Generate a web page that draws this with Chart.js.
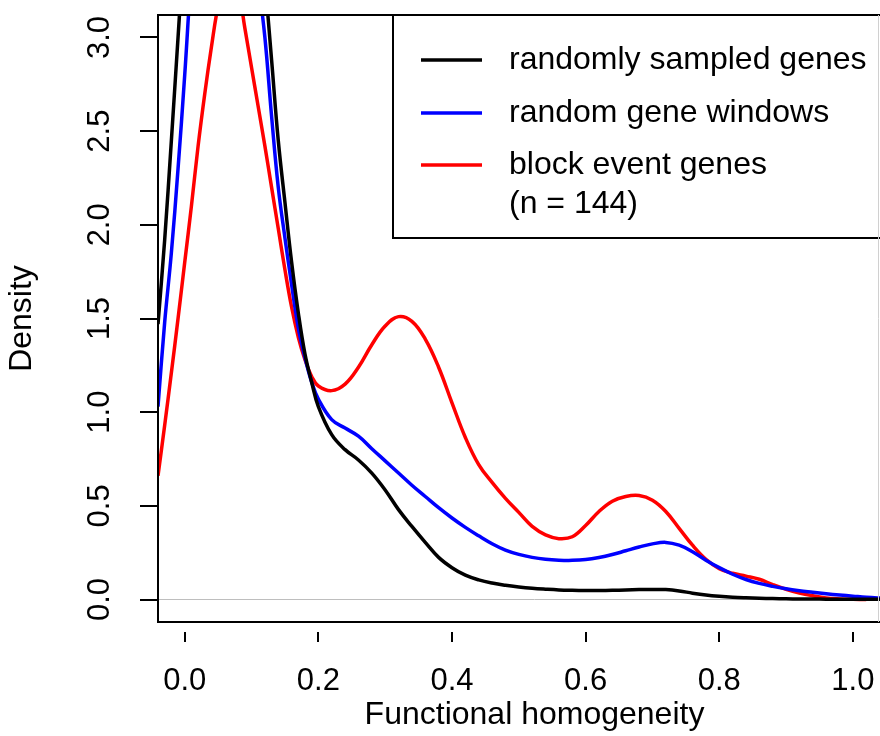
<!DOCTYPE html>
<html>
<head>
<meta charset="utf-8">
<title>Functional homogeneity density</title>
<script src="https://cdn.jsdelivr.net/npm/chart.js@4.4.1/dist/chart.umd.min.js"></script>
<style>
  html, body { margin: 0; padding: 0; background: #fff; overflow: hidden; }
  canvas { display: block; }
</style>
</head>
<body>
<!-- the original figure is cropped on its right side, so the canvas runs a bit past the window -->
<canvas id="myChart" width="911" height="736"></canvas>
<script>
const xGrid = [
  -0.04, -0.03, -0.02, -0.01, 0.00, 0.01, 0.02, 0.03, 0.04, 0.05,
  0.06, 0.07, 0.08, 0.09, 0.10, 0.11, 0.12, 0.13, 0.14, 0.15,
  0.16, 0.17, 0.18, 0.19, 0.20, 0.22, 0.24, 0.26, 0.28, 0.30,
  0.32, 0.34, 0.36, 0.38, 0.40, 0.42, 0.44, 0.46, 0.48, 0.50,
  0.52, 0.54, 0.56, 0.58, 0.60, 0.62, 0.64, 0.66, 0.68, 0.70,
  0.72, 0.74, 0.76, 0.78, 0.80, 0.82, 0.84, 0.86, 0.88, 0.90,
  0.92, 0.94, 0.96, 0.98, 1.00, 1.02, 1.04, 1.06, 1.08
];

const randomlySampled = [
  1.47, 1.92, 2.45, 3.0, 3.55, 4.0, 4.4, 4.7, 4.9, 5.0,
  5.0, 4.9, 4.65, 4.3, 3.95, 3.65, 3.3, 2.88, 2.45, 2.12,
  1.8, 1.53, 1.31, 1.16, 1.03, 0.88, 0.80, 0.745, 0.675, 0.585,
  0.48, 0.39, 0.305, 0.225, 0.17, 0.13, 0.105, 0.088, 0.076, 0.067,
  0.06, 0.055, 0.051, 0.049, 0.048, 0.048, 0.049, 0.051, 0.053, 0.054,
  0.053, 0.046, 0.034, 0.024, 0.017, 0.012, 0.009, 0.007, 0.005, 0.004,
  0.003, 0.003, 0.002, 0.002, 0.001, 0.001, 0.001, 0.001, 0.0
];

const randomWindows = [
  1.03, 1.48, 1.85, 2.3, 2.8, 3.35, 3.75, 4.05, 4.25, 4.35,
  4.35, 4.25, 4.05, 3.8, 3.55, 3.3, 3.0, 2.58, 2.2, 1.93,
  1.68, 1.45, 1.29, 1.16, 1.07, 0.96, 0.915, 0.872, 0.805, 0.74,
  0.675, 0.61, 0.55, 0.49, 0.435, 0.385, 0.34, 0.298, 0.264, 0.241,
  0.225, 0.215, 0.21, 0.209, 0.213, 0.224, 0.24, 0.26, 0.28, 0.297,
  0.305, 0.29, 0.255, 0.21, 0.17, 0.135, 0.107, 0.086, 0.07, 0.057,
  0.047, 0.039, 0.031, 0.024, 0.018, 0.012, 0.008, 0.005, 0.003
];

const blockEvent = [
  0.66, 0.93, 1.21, 1.5, 1.8, 2.1, 2.42, 2.7, 2.95, 3.17,
  3.3, 3.34, 3.26, 3.05, 2.84, 2.63, 2.42, 2.2, 1.98, 1.76,
  1.56, 1.4, 1.28, 1.19, 1.14, 1.115, 1.15, 1.24, 1.36, 1.46,
  1.51, 1.485, 1.39, 1.24, 1.05, 0.865, 0.72, 0.625, 0.54, 0.465,
  0.39, 0.345, 0.325, 0.335, 0.395, 0.47, 0.525, 0.55, 0.555, 0.53,
  0.47, 0.38, 0.29, 0.215, 0.165, 0.14, 0.125, 0.108, 0.08, 0.055,
  0.035, 0.02, 0.008, 0.003, 0.001, 0.0, null, null, null
];

const seriesLabels = ['randomly sampled genes', 'random gene windows', ['block event genes', '(n = 144)']];
const seriesColors = ['#000000', '#0000ff', '#ff0000'];
const xTickValues = [0, 0.2, 0.4, 0.6, 0.8, 1.0];
const yTickValues = [0, 0.5, 1.0, 1.5, 2.0, 2.5, 3.0];

const FONT = "'Liberation Sans', Arial, Helvetica, sans-serif";

function toPoints(values) {
  return xGrid.map((x, i) => ({ x: x, y: values[i] }));
}

// R style frame, zero line, detached x ticks and boxed legend
const rStyle = {
  id: 'rStyle',
  beforeDatasetsDraw(chart) {
    const { ctx, chartArea: a, scales: { y } } = chart;
    const y0 = Math.round(y.getPixelForValue(0)) - 0.5;
    ctx.save();
    ctx.strokeStyle = '#bebebe';
    ctx.lineWidth = 1;
    ctx.beginPath();
    ctx.moveTo(a.left, y0);
    ctx.lineTo(a.right, y0);
    ctx.stroke();
    ctx.restore();
  },
  afterDraw(chart) {
    const { ctx, chartArea: a, scales: { x } } = chart;
    ctx.save();

    // x ticks, drawn apart from the frame like R's axis()
    ctx.strokeStyle = '#000';
    ctx.lineWidth = 2;
    x.ticks.forEach(t => {
      const px = Math.round(x.getPixelForValue(t.value));
      ctx.beginPath();
      ctx.moveTo(px, a.bottom + 10);
      ctx.lineTo(px, a.bottom + 20);
      ctx.stroke();
    });

    // legend box
    const lx = 393, ly = a.top, lb = 238;
    ctx.fillStyle = '#fff';
    ctx.fillRect(lx, ly, a.right - lx, lb - ly);
    ctx.strokeStyle = '#000';
    ctx.lineWidth = 2;
    ctx.beginPath();
    ctx.moveTo(a.right, lb);
    ctx.lineTo(lx, lb);
    ctx.lineTo(lx, ly);
    ctx.stroke();

    const rows = [60, 113, 165];
    ctx.font = '32px ' + FONT;
    ctx.textBaseline = 'middle';
    ctx.textAlign = 'left';
    chart.data.datasets.forEach((ds, i) => {
      ctx.strokeStyle = ds.borderColor;
      ctx.lineWidth = 3.5;
      ctx.beginPath();
      ctx.moveTo(421, rows[i]);
      ctx.lineTo(482, rows[i]);
      ctx.stroke();
      ctx.fillStyle = '#000';
      const lines = Array.isArray(ds.label) ? ds.label : [ds.label];
      lines.forEach((txt, k) => ctx.fillText(txt, 509, rows[i] + k * 39));
    });

    // plot frame
    ctx.strokeStyle = '#000';
    ctx.lineWidth = 2;
    ctx.beginPath();
    ctx.moveTo(a.right, a.top);
    ctx.lineTo(a.left, a.top);
    ctx.lineTo(a.left, a.bottom);
    ctx.lineTo(a.right, a.bottom);
    ctx.stroke();

    // faint edge where the source image was cut
    ctx.strokeStyle = '#d0d0d0';
    ctx.lineWidth = 1;
    ctx.beginPath();
    ctx.moveTo(878.5, a.top);
    ctx.lineTo(878.5, a.bottom);
    ctx.stroke();
    ctx.restore();
  }
};

const datasets = [randomlySampled, randomWindows, blockEvent].map((vals, i) => ({
  label: seriesLabels[i],
  data: toPoints(vals),
  borderColor: seriesColors[i],
  borderWidth: 3.5,
  pointRadius: 0,
  fill: false,
  tension: 0.4,
  clip: 0
}));

new Chart(document.getElementById('myChart'), {
  type: 'line',
  data: { datasets: datasets },
  plugins: [rStyle],
  options: {
    responsive: false,
    devicePixelRatio: 1,
    animation: false,
    layout: { padding: { top: 15, right: 0, left: 0, bottom: 0 } },
    plugins: {
      legend: { display: false },
      tooltip: { enabled: false }
    },
    scales: {
      x: {
        type: 'linear',
        min: -0.04,
        max: 1.087,
        afterFit: s => {
          s.height = 114;
          s.paddingLeft = 0;
          s.paddingRight = 0;
        },
        afterBuildTicks: s => { s.ticks = xTickValues.map(v => ({ value: v })); },
        grid: { display: false, drawTicks: false },
        border: { display: false },
        ticks: {
          autoSkip: false,
          maxRotation: 0,
          padding: 41,
          color: '#000',
          font: { family: FONT, size: 31 },
          callback: v => v.toFixed(1)
        },
        title: {
          display: true,
          text: 'Functional homogeneity',
          color: '#000',
          font: { family: FONT, size: 32 },
          padding: { top: 0, bottom: 2 }
        }
      },
      y: {
        min: -0.12,
        max: 3.12,
        afterFit: s => {
          s.width = 158;
          s.paddingTop = 0;
          s.paddingBottom = 0;
        },
        afterBuildTicks: s => { s.ticks = yTickValues.map(v => ({ value: v })); },
        grid: { drawOnChartArea: false, drawTicks: true, tickLength: 18, color: '#000', lineWidth: 2 },
        border: { display: false },
        ticks: {
          autoSkip: false,
          minRotation: 90,
          maxRotation: 90,
          crossAlign: 'center',
          padding: 18,
          color: '#000',
          font: { family: FONT, size: 31 },
          callback: v => v.toFixed(1)
        },
        title: {
          display: true,
          text: 'Density',
          color: '#000',
          font: { family: FONT, size: 32 },
          padding: { top: 3, bottom: 0 }
        }
      }
    }
  }
});
</script>
</body>
</html>
